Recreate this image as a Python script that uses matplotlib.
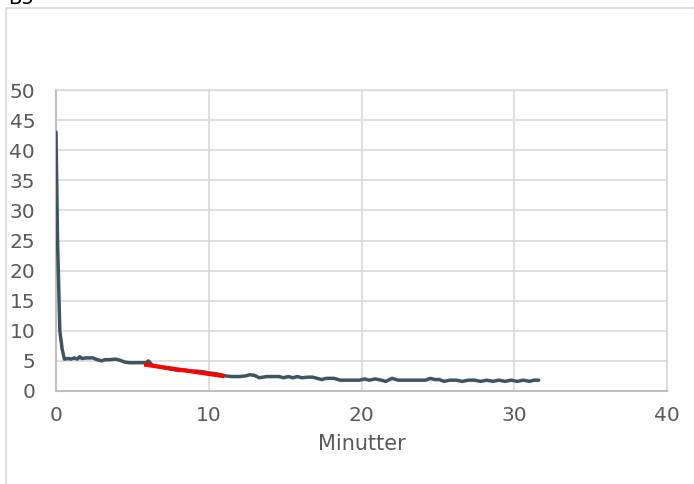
import matplotlib
matplotlib.use("Agg")
import matplotlib.pyplot as plt
from matplotlib.patches import Rectangle

plt.rcParams["font.family"] = ["DejaVu Sans"]

# Data (minutes, value)
time_min = [0.0, 0.1, 0.25, 0.4, 0.55, 0.8, 1.0, 1.2, 1.4, 1.55, 1.7, 2.0, 2.4, 2.7, 3.0, 3.2, 3.5,
            3.9, 4.2, 4.5, 4.8, 5.2, 5.6, 5.9, 6.05, 6.3, 6.6, 7.0, 7.4, 7.8, 8.1, 8.4, 8.8, 9.2,
            9.6, 10.0, 10.4, 10.8, 11.1, 11.5, 12.0, 12.4, 12.7, 13.0, 13.3, 13.8, 14.3, 14.6,
            14.9, 15.2, 15.5, 15.8, 16.1, 16.5, 16.8, 17.1, 17.4, 17.7, 18.2, 18.6, 19.0, 19.5,
            19.9, 20.2, 20.5, 20.9, 21.3, 21.6, 22.0, 22.4, 23.0, 23.6, 24.2, 24.5, 24.8, 25.1,
            25.4, 25.8, 26.2, 26.6, 27.0, 27.4, 27.8, 28.2, 28.6, 29.0, 29.4, 29.8, 30.2, 30.6,
            31.0, 31.3, 31.6]
value = [43.0, 25.0, 10.0, 7.0, 5.3, 5.4, 5.3, 5.5, 5.3, 5.7, 5.4, 5.5, 5.5, 5.2, 5.0, 5.2, 5.2,
         5.3, 5.1, 4.8, 4.7, 4.7, 4.7, 4.7, 5.0, 4.3, 4.1, 3.9, 3.7, 3.5, 3.4, 3.5, 3.3, 3.3,
         3.2, 3.0, 2.9, 2.7, 2.5, 2.4, 2.4, 2.5, 2.7, 2.6, 2.2, 2.4, 2.4, 2.4, 2.2, 2.4, 2.2,
         2.4, 2.2, 2.3, 2.3, 2.1, 1.9, 2.1, 2.1, 1.8, 1.8, 1.8, 1.8, 2.0, 1.8, 2.0, 1.8, 1.6,
         2.1, 1.8, 1.8, 1.8, 1.8, 2.1, 1.9, 1.9, 1.6, 1.8, 1.8, 1.6, 1.8, 1.8, 1.6, 1.8, 1.6,
         1.8, 1.6, 1.8, 1.6, 1.8, 1.6, 1.8, 1.8]

trend_time = [5.9, 10.9]
trend_value = [4.35, 2.5]

x_ticks = [0, 10, 20, 30, 40]
y_ticks = [0, 5, 10, 15, 20, 25, 30, 35, 40, 45, 50]

W, H = 694, 484
fig = plt.figure(figsize=(W / 100, H / 100), dpi=100)
fig.patch.set_facecolor("white")

# outer chart border (partially cut off)
fig.add_artist(Rectangle((6 / W, -0.1), 1.1, 1.1 - 8 / H, transform=fig.transFigure,
                         fill=False, edgecolor="#D9D9D9", linewidth=1.2))
fig.text(8 / W, 1 - 4 / H, "B5", fontsize=14, color="#000000", va="baseline", ha="left")

ax = fig.add_axes([56 / W, 1 - 391 / H, (667 - 56) / W, (391 - 90) / H])
ax.plot(time_min, value, color="#3F5462", linewidth=2.5, solid_joinstyle="round",
        solid_capstyle="round", zorder=3)
ax.plot(trend_time, trend_value, color="#FF0000", linewidth=3.0, zorder=4)

ax.set_xlim(0, 40)
ax.set_ylim(0, 50)
ax.set_xticks(x_ticks)
ax.set_yticks(y_ticks)
ax.grid(True, color="#D9D9D9", linewidth=1.2)
ax.set_axisbelow(True)
for s in ["top", "right"]:
    ax.spines[s].set_color("#D9D9D9")
    ax.spines[s].set_linewidth(1.2)
for s in ["left", "bottom"]:
    ax.spines[s].set_color("#BFBFBF")
    ax.spines[s].set_linewidth(1.5)
ax.tick_params(length=0, labelsize=14.5, labelcolor="#595959")
ax.tick_params(axis="y", pad=15)
ax.tick_params(axis="x", pad=11)
ax.set_xlabel("Minutter", fontsize=15, color="#595959", labelpad=6)

fig.savefig("out.png", dpi=100)
